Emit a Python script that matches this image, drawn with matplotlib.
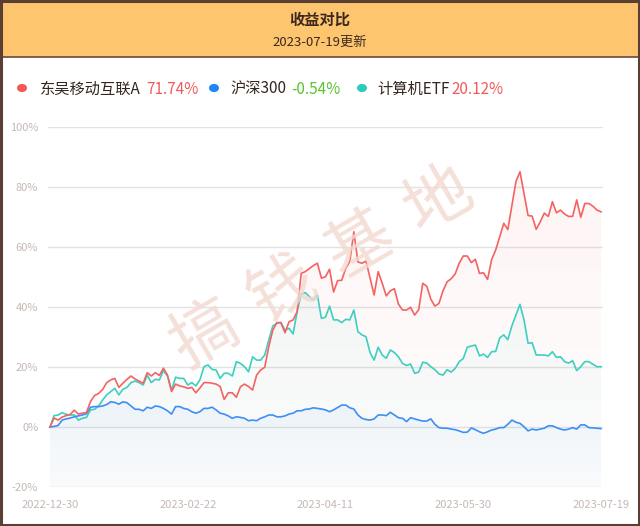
import matplotlib
matplotlib.use('Agg')
import matplotlib.pyplot as plt
from matplotlib.patches import Rectangle, Circle, Polygon
from matplotlib.colors import to_rgb
import numpy as np

plt.rcParams['font.family'] = ['Noto Sans CJK SC', 'DejaVu Sans']

title = '收益对比'
subtitle = '2023-07-19更新'
series_names = ['东吴移动互联A', '沪深300', '计算机ETF']
final_returns = ['71.74%', '-0.54%', '20.12%']
x_tick_labels = ['2022-12-30', '2023-02-22', '2023-04-11', '2023-05-30', '2023-07-19']
y_ticks = [-20, 0, 20, 40, 60, 80, 100]
watermark_chars = ['搞', '钱', '基', '地']

fund = [0, 3.0, 2.3, 3.3, 3.8, 4.2, 5.6, 4.3, 4.6, 4.8,
        8.5, 10.5, 11.2, 12.5, 14.8, 15.7, 16.2, 13.2, 14.6, 15.9,
        17.0, 16.0, 15.3, 14.6, 18.1, 17.0, 18.1, 17.2, 19.6, 17.3,
        11.8, 14.3, 13.7, 13.4, 12.9, 13.2, 11.4, 13.0, 14.8, 14.8,
        14.6, 14.3, 13.5, 9.2, 11.4, 11.4, 9.9, 13.4, 14.3, 13.5,
        12.3, 17.3, 19.0, 19.9, 26.8, 32.3, 34.8, 34.8, 31.4, 35.1,
        35.7, 38.4, 51.2, 51.8, 52.8, 53.8, 54.6, 49.6, 50.1, 52.6,
        45.0, 48.8, 48.9, 52.9, 55.2, 65.1, 55.0, 54.6, 55.3, 49.6,
        44.0, 51.8, 47.9, 43.7, 45.4, 46.1, 41.0, 39.0, 39.0, 39.9,
        37.3, 39.1, 47.9, 46.9, 42.6, 40.3, 41.2, 45.4, 48.4, 49.4,
        51.0, 54.6, 57.0, 57.0, 54.8, 55.9, 51.2, 51.4, 49.2, 55.8,
        59.0, 63.5, 67.9, 65.8, 73.7, 81.8, 85.1, 77.9, 70.5, 70.3,
        65.9, 68.4, 71.3, 70.2, 75.1, 71.4, 72.3, 71.0, 70.2, 70.2,
        75.7, 69.9, 74.5, 74.5, 73.6, 72.3, 71.74]

hs300 = [0, 0.2, 0.5, 2.3, 2.7, 3.0, 3.4, 3.7, 4.0, 4.4,
         6.6, 6.8, 6.8, 7.0, 7.5, 8.4, 8.2, 7.6, 8.4, 8.1,
         7.0, 5.9, 5.9, 5.4, 6.6, 6.2, 7.0, 6.8, 6.2, 5.4,
         4.3, 6.8, 6.8, 6.2, 5.9, 5.1, 4.6, 5.1, 6.2, 6.2,
         6.6, 5.7, 4.6, 4.3, 3.7, 2.9, 3.4, 3.2, 2.9, 2.1,
         2.3, 2.1, 2.9, 3.4, 4.0, 4.0, 3.4, 3.4, 3.7, 4.3,
         4.6, 5.4, 5.4, 5.9, 6.0, 6.4, 6.2, 6.0, 5.7, 5.1,
         5.7, 6.5, 7.3, 7.3, 6.4, 6.0, 4.0, 2.9, 2.5, 2.3,
         2.7, 4.0, 4.0, 3.8, 4.9, 4.0, 3.1, 2.9, 1.8, 3.1,
         2.7, 2.3, 2.0, 2.0, 2.7, 0.9, -0.2, -0.4, -0.4, -0.7,
         -0.9, -1.3, -1.8, -1.7, -0.3, -0.9, -1.6, -2.1, -1.6, -1.0,
         -0.7, -0.2, -0.2, 0.9, 2.3, 1.6, 1.2, 0.1, -1.3, -0.7,
         -1.0, -0.7, -0.4, 0.4, 0.4, -0.2, -0.7, -1.0, -0.7, -0.2,
         -0.7, 0.7, 0.7, -0.2, -0.3, -0.4, -0.54]

etf = [0, 3.8, 4.0, 4.8, 4.2, 4.0, 4.0, 2.3, 2.9, 3.2,
       5.7, 5.9, 7.0, 9.0, 10.7, 11.8, 12.9, 10.7, 12.6, 13.2,
       14.8, 15.3, 14.8, 14.0, 17.3, 14.8, 15.9, 15.7, 18.8, 17.0,
       12.3, 16.6, 16.2, 16.2, 14.0, 14.8, 13.7, 15.7, 20.1, 20.7,
       19.2, 19.0, 16.2, 17.9, 17.9, 17.0, 21.8, 21.2, 20.1, 18.4,
       23.4, 22.3, 22.3, 24.0, 29.0, 33.7, 34.6, 34.8, 32.3, 32.9,
       31.0, 38.5, 44.3, 44.8, 43.5, 42.3, 44.0, 36.2, 36.6, 40.3,
       35.7, 35.7, 34.8, 35.9, 35.7, 39.0, 31.8, 30.7, 30.1, 24.8,
       22.3, 26.6, 24.0, 22.9, 25.7, 24.8, 23.4, 21.2, 20.5, 21.0,
       17.9, 18.3, 21.6, 21.3, 20.1, 19.1, 17.7, 17.3, 19.1, 18.3,
       19.5, 21.8, 22.8, 26.6, 27.0, 27.3, 23.7, 24.3, 23.2, 25.1,
       25.2, 29.7, 30.7, 29.1, 33.7, 37.3, 40.9, 35.7, 27.9, 28.1,
       24.0, 24.0, 24.0, 23.7, 25.1, 23.2, 23.4, 21.8, 21.3, 22.1,
       18.8, 20.1, 21.8, 21.8, 20.9, 20.1, 20.12]

series = [fund, hs300, etf]
line_colors = ['#f56262', '#3d8ff5', '#3dcfc0']
dot_colors = ['#f25858', '#1f87f5', '#2ccbbd']
value_colors = ['#f25a5a', '#5cc232', '#f25a5a']
fill_alpha = [(0.07, 0.008), (0.06, 0.015), (0.06, 0.008)]

W, H = 640, 526
fig = plt.figure(figsize=(W / 100, H / 100), dpi=100)
fig.patch.set_facecolor('white')

# header band
fig.patches.append(Rectangle((0, 1 - 57 / H), 1, 57 / H, transform=fig.transFigure,
                             facecolor='#fec56f', edgecolor='none', zorder=0))
fig.lines.append(plt.Line2D([0, 1], [1 - 57 / H, 1 - 57 / H], transform=fig.transFigure,
                            color='#6b4a3a', lw=1.2))
# outer frame
fig.patches.append(Rectangle((0.0015, 0.002), 0.997, 0.996, transform=fig.transFigure,
                             facecolor='none', edgecolor='#5a3f33', lw=2.2, zorder=10))

fig.text(0.5, 1 - 20 / H, title, ha='center', va='center', fontsize=11, fontweight='bold',
         color='#3b281e')
fig.text(0.5, 1 - 42 / H, subtitle, ha='center', va='center', fontsize=9.5, color='#3b281e')

# legend
dot_x = [22, 214, 362]
name_x = [40, 230, 377]
val_x = [146, 291, 451]
ly = 1 - 89 / H
for k in range(3):
    fig.patches.append(Circle((dot_x[k] / W, ly + 1 / H), 5 / W, transform=fig.transFigure,
                              facecolor=dot_colors[k], edgecolor='none'))
    fig.text(name_x[k] / W, ly, series_names[k], ha='left', va='center', fontsize=11,
             fontweight='medium', color='#35261e')
    fig.text(val_x[k] / W, ly, final_returns[k], ha='left', va='center', fontsize=11,
             color=value_colors[k])

# plot area
left, right, top, bottom = 48, 603, 127, 487
ax = fig.add_axes([left / W, 1 - bottom / H, (right - left) / W, (bottom - top) / H])
ax.set_facecolor('none')
n = len(fund)
x = np.arange(n)

# watermark
cx, cy = 322, 268
step = 90
ang = np.deg2rad(30)
for k, ch in enumerate(watermark_chars):
    off = (k - 1.5) * step
    px = cx + off * np.cos(ang)
    py = cy - off * np.sin(ang)
    fig.text(px / W, 1 - py / H, ch, ha='center', va='center', fontsize=48,
             rotation=30, color='#f2d9d0', alpha=0.8, zorder=1)

# gradient area fills
for k, (vals, c) in enumerate(zip(series, line_colors)):
    rgb = to_rgb(c)
    grad = np.zeros((256, 1, 4))
    grad[:, 0, :3] = rgb
    grad[:, 0, 3] = np.linspace(fill_alpha[k][0], fill_alpha[k][1], 256)
    ymax = max(vals)
    im = ax.imshow(grad, aspect='auto', extent=[0, n - 1, -20, ymax], origin='upper',
                   zorder=2, interpolation='bilinear')
    verts = [(0, -20)] + list(zip(x, vals)) + [(n - 1, -20)]
    poly = Polygon(verts, closed=True, facecolor='none', edgecolor='none')
    ax.add_patch(poly)
    im.set_clip_path(poly)

for k, (vals, c) in enumerate(zip(series, line_colors)):
    ax.plot(x, vals, color=c, lw=1.2, zorder=3 + (2 - k))

ax.set_xlim(-0.49, n - 1 + 0.49)
ax.set_ylim(-20, 100)
for s in ax.spines.values():
    s.set_visible(False)
ax.set_yticks(y_ticks)
ax.set_yticklabels([f'{v}%' for v in y_ticks])
ax.yaxis.grid(True, color='#e3e3e3', lw=1)
ax.set_axisbelow(True)
tick_pos = np.linspace(0, n - 1, len(x_tick_labels))
ax.set_xticks(tick_pos)
ax.set_xticklabels(x_tick_labels)
ax.tick_params(axis='both', length=0, labelsize=8, labelcolor='#c4b9b4')
ax.tick_params(axis='y', pad=7)
ax.tick_params(axis='x', pad=9)

fig.savefig('out.png', dpi=100, facecolor=fig.get_facecolor())
